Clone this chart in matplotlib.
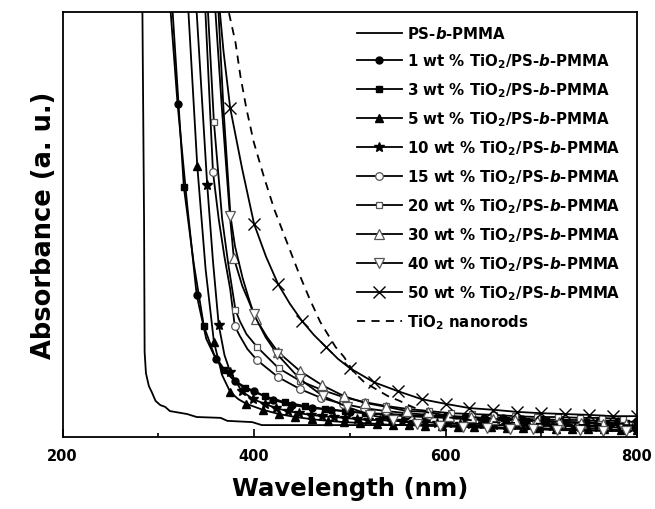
import matplotlib
matplotlib.use('Agg')
import matplotlib.pyplot as plt
from matplotlib.ticker import MultipleLocator

plt.rcParams['font.family'] = 'DejaVu Sans'
plt.rcParams['font.weight'] = 'bold'
plt.rcParams['mathtext.fontset'] = 'custom'
plt.rcParams['mathtext.rm'] = 'DejaVu Sans:bold'
plt.rcParams['mathtext.it'] = 'DejaVu Sans:italic:bold'
plt.rcParams['mathtext.bf'] = 'DejaVu Sans:bold'

# ---------------- data (wavelength nm, absorbance a.u.) ----------------
wl_ps = [282.8, 283.3, 285.0, 285.6, 287, 290, 293, 297, 302, 307, 312, 330, 340, 365, 372, 398, 408, 500, 600, 700, 800]
a_ps = [1.05, 1.000, 0.513, 0.200, 0.150, 0.120, 0.106, 0.085, 0.075, 0.071, 0.061, 0.054, 0.047, 0.045, 0.038, 0.035, 0.028, 0.028, 0.028, 0.027, 0.027]

wl_1 = [311, 320, 330, 340, 350, 360, 370, 380, 390, 400, 420, 440, 460, 480, 500, 520, 540, 560, 580, 600,
        620, 640, 660, 680, 700, 720, 740, 760, 780, 800]
a_1 = [1.054, 0.784, 0.548, 0.334, 0.231, 0.184, 0.153, 0.132, 0.118, 0.108, 0.087, 0.075, 0.068, 0.064, 0.059,
       0.056, 0.054, 0.052, 0.049, 0.049, 0.047, 0.045, 0.045, 0.042, 0.042, 0.040, 0.040, 0.038, 0.038, 0.035]

wl_3 = [314, 326.6, 337, 347.5, 358, 369, 379.5, 390, 411, 432, 453, 474, 495, 516, 537, 558, 579, 600, 621, 642,
        663, 684, 705, 726, 747, 768, 789]
a_3 = [1.031, 0.588, 0.407, 0.261, 0.195, 0.158, 0.132, 0.115, 0.096, 0.082, 0.073, 0.066, 0.061, 0.056, 0.052,
       0.049, 0.047, 0.045, 0.042, 0.040, 0.040, 0.038, 0.038, 0.035, 0.035, 0.033, 0.033]

wl_5 = [330, 340.6, 349.3, 358, 366.5, 375, 383.5, 392, 409, 426, 443, 460, 477, 494, 511, 528, 545, 562, 579, 596,
        613, 630, 647, 664, 681, 698, 715, 732, 749, 766, 783, 800]
a_5 = [1.054, 0.638, 0.395, 0.224, 0.146, 0.106, 0.089, 0.078, 0.064, 0.054, 0.047, 0.042, 0.038, 0.035, 0.033,
       0.031, 0.028, 0.028, 0.026, 0.026, 0.024, 0.024, 0.024, 0.021, 0.021, 0.021, 0.019, 0.019, 0.019, 0.019,
       0.016, 0.016]

wl_10 = [338.5, 351, 357, 363, 369, 375, 387, 399, 411, 423, 435, 447, 459, 471, 483, 495, 507, 519, 531, 543, 555,
         567, 579, 591, 603, 615, 627, 639, 651, 663, 675, 687, 699, 711, 723, 735, 747, 759, 771, 783, 795]
a_10 = [1.054, 0.593, 0.414, 0.264, 0.193, 0.153, 0.108, 0.089, 0.078, 0.068, 0.061, 0.056, 0.052, 0.049, 0.047,
        0.045, 0.042, 0.040, 0.040, 0.038, 0.038, 0.035, 0.035, 0.033, 0.033, 0.031, 0.031, 0.031, 0.028, 0.028,
        0.028, 0.026, 0.026, 0.026, 0.026, 0.024, 0.024, 0.024, 0.024, 0.021, 0.021]

wl_15 = [348, 357, 363, 369, 375, 379.8, 385, 393, 403, 425, 447.7, 470, 492.5, 515, 537.5, 560, 582.5, 605, 627.5,
         650, 672.5, 695, 717.5, 740, 762.5, 785]
a_15 = [1.054, 0.624, 0.513, 0.424, 0.348, 0.261, 0.238, 0.207, 0.181, 0.141, 0.113, 0.092, 0.078, 0.068, 0.061,
        0.056, 0.052, 0.047, 0.045, 0.042, 0.040, 0.038, 0.035, 0.033, 0.033, 0.031]

wl_20 = [350.5, 358, 366.6, 373, 380.5, 385, 392, 403, 425.5, 448, 470.5, 493, 515.5, 538, 560.5, 583, 605.5, 628,
         650.5, 673, 695.5, 718, 740.5, 763, 785.5]
a_20 = [1.054, 0.741, 0.513, 0.407, 0.299, 0.273, 0.242, 0.212, 0.162, 0.132, 0.111, 0.094, 0.082, 0.073, 0.066,
        0.061, 0.056, 0.054, 0.052, 0.049, 0.047, 0.047, 0.045, 0.045, 0.042]

wl_30 = [358, 366, 371, 375, 378.8, 387.7, 394.7, 402, 413.5, 425, 448, 471, 494, 516, 538, 560, 582, 604, 627, 650,
         673, 696, 719, 742, 765, 788]
a_30 = [1.054, 0.784, 0.631, 0.513, 0.421, 0.355, 0.318, 0.278, 0.235, 0.200, 0.155, 0.122, 0.096, 0.080, 0.071,
        0.061, 0.059, 0.049, 0.047, 0.042, 0.040, 0.038, 0.035, 0.033, 0.031, 0.031]

wl_40 = [361.5, 368, 375.3, 380, 388, 394, 399.7, 412, 424, 448, 472, 497, 521, 545, 570, 594, 618, 643, 667, 691,
         716, 740, 764, 789]
a_40 = [1.054, 0.772, 0.520, 0.449, 0.374, 0.329, 0.289, 0.235, 0.195, 0.136, 0.096, 0.071, 0.052, 0.040, 0.031,
        0.026, 0.024, 0.021, 0.019, 0.019, 0.016, 0.016, 0.014, 0.014]

wl_50 = [362, 368, 375, 387.5, 400, 412.5, 425, 437.5, 450, 462.5, 475, 487.5, 500, 525, 550, 575, 600, 625, 650,
         675, 700, 725, 750, 775, 800]
a_50 = [1.054, 0.908, 0.774, 0.631, 0.501, 0.424, 0.360, 0.313, 0.273, 0.240, 0.212, 0.184, 0.162, 0.129, 0.108,
        0.089, 0.078, 0.068, 0.064, 0.059, 0.056, 0.054, 0.052, 0.049, 0.049]

wl_rod = [370, 373.5, 380.5, 385.7, 392, 399.6, 410, 421, 435, 447, 458, 469, 485, 494, 504, 515, 527, 540, 552, 565,
          577, 590, 600, 625, 650, 700, 750, 800]
a_rod = [1.035, 1.000, 0.929, 0.849, 0.772, 0.694, 0.614, 0.536, 0.454, 0.384, 0.325, 0.271, 0.212, 0.188, 0.153,
         0.129, 0.113, 0.096, 0.085, 0.071, 0.061, 0.052, 0.047, 0.040, 0.035, 0.031, 0.028, 0.028]

labels = [
    'PS-$\\mathit{b}$-PMMA',
    '1 wt % TiO$_2$/PS-$\\mathit{b}$-PMMA',
    '3 wt % TiO$_2$/PS-$\\mathit{b}$-PMMA',
    '5 wt % TiO$_2$/PS-$\\mathit{b}$-PMMA',
    '10 wt % TiO$_2$/PS-$\\mathit{b}$-PMMA',
    '15 wt % TiO$_2$/PS-$\\mathit{b}$-PMMA',
    '20 wt % TiO$_2$/PS-$\\mathit{b}$-PMMA',
    '30 wt % TiO$_2$/PS-$\\mathit{b}$-PMMA',
    '40 wt % TiO$_2$/PS-$\\mathit{b}$-PMMA',
    '50 wt % TiO$_2$/PS-$\\mathit{b}$-PMMA',
    'TiO$_2$ nanorods',
]
xticks = [200, 400, 600, 800]

# ---------------- figure ----------------
fig = plt.figure(figsize=(6.55, 5.10), dpi=100)
ax = fig.add_axes([0.0957, 0.1412, 0.8768, 0.8333])

lw = 1.3
grey = '#555555'
series = [
    (wl_ps, a_ps, dict(ls='-', marker=None)),
    (wl_1, a_1, dict(marker='o', ms=5, mfc='k', mec='k', markevery=[1, 3, 5, 7] + list(range(9, 30)))),
    (wl_3, a_3, dict(marker='s', ms=4.5, mfc='k', mec='k', markevery=[1, 3, 5] + list(range(7, 27)))),
    (wl_5, a_5, dict(marker='^', ms=5.5, mfc='k', mec='k', markevery=[1, 3, 5] + list(range(7, 32)))),
    (wl_10, a_10, dict(marker='*', ms=7, mfc='k', mec='k', markevery=[1, 3] + list(range(5, 41)))),
    (wl_15, a_15, dict(marker='o', ms=5.5, mfc='w', mec=grey, mew=0.9, markevery=[1, 5] + list(range(8, 26)))),
    (wl_20, a_20, dict(marker='s', ms=5.0, mfc='w', mec=grey, mew=0.9, markevery=[1, 4] + list(range(7, 25)))),
    (wl_30, a_30, dict(marker='^', ms=6.5, mfc='w', mec=grey, mew=0.9, markevery=[4, 7] + list(range(9, 26)))),
    (wl_40, a_40, dict(marker='v', ms=6.5, mfc='w', mec=grey, mew=0.9, markevery=[2, 6] + list(range(8, 24)))),
    (wl_50, a_50, dict(marker='x', ms=8, mec='k', mew=1.0, markevery=[2, 4, 6, 8, 10] + list(range(12, 25)))),
    (wl_rod, a_rod, dict(ls=(0, (4.5, 3.5)), marker=None)),
]
for (x, y, st), lab in zip(series, labels):
    ax.plot(x, y, color='k', lw=lw, label=lab, **st)

ax.set_xlim(200, 800)
ax.set_ylim(0, 1)
ax.set_yticks([])
ax.set_xticks(xticks)
ax.xaxis.set_minor_locator(MultipleLocator(100))
ax.tick_params(axis='x', which='major', direction='in', length=5.5, width=1.2, top=False, pad=8,
               labelsize=10.5)
ax.tick_params(axis='x', which='minor', direction='in', length=3, width=1.2, top=False)
for lab in ax.get_xticklabels():
    lab.set_fontweight('bold')
for s in ax.spines.values():
    s.set_linewidth(1.3)

ax.set_xlabel('Wavelength (nm)', fontsize=17.6, fontweight='bold', labelpad=9)
ax.set_ylabel('Absorbance (a. u.)', fontsize=18.5, fontweight='bold', labelpad=4)

ax.legend(loc='upper left', bbox_to_anchor=(0.512, 0.97), frameon=False, borderpad=0, borderaxespad=0,
          handlelength=3.0, handletextpad=0.33, labelspacing=0.69, numpoints=1,
          prop=dict(weight='bold', size=10.8))

fig.savefig('out.png', dpi=100)
